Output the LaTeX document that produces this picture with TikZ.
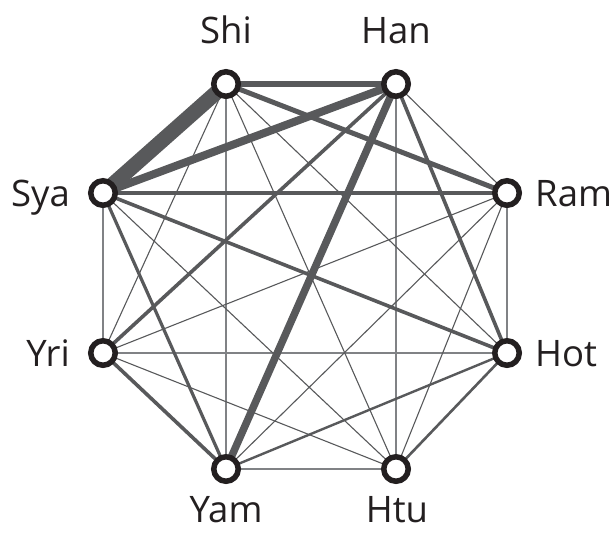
\documentclass[tikz,border=0pt]{standalone}
\usepackage{fontspec}
\setmainfont{Open Sans}
\usetikzlibrary{backgrounds}
\definecolor{ink}{HTML}{231F20}
\definecolor{edgegray}{HTML}{58595B}
\definecolor{lightedge}{HTML}{808285}
\tikzset{
  vert/.style={circle, draw=ink, fill=white, line width=5.5pt,
               minimum size=24.5pt, inner sep=0pt},
  lbl/.style={text=ink, font=\fontsize{36.5}{40}\selectfont, inner sep=0pt},
  w/.style={draw=edgegray, line width=#1pt},
  thin edge/.style={draw=edgegray, line width=1.1pt},
  grid edge/.style={draw=lightedge, line width=1.6pt},
}
\begin{document}
\begin{tikzpicture}[x=1pt, y=-1pt]
\useasboundingbox (0,0) rectangle (616,533);

% vertices of the octagon
\node[vert] (Shi) at (226,84)  {};
\node[vert] (Han) at (396,84)  {};
\node[vert] (Ram) at (507,193) {};
\node[vert] (Hot) at (507,353) {};
\node[vert] (Htu) at (396,469) {};
\node[vert] (Yam) at (226,469) {};
\node[vert] (Yri) at (103,353) {};
\node[vert] (Sya) at (103,193) {};

% labels
\node[lbl, anchor=base] (lShi) at (226,43) {Shi};
\node[lbl, anchor=base] (lHan) at (396,43) {Han};
\node[lbl, anchor=base west] (lRam) at (535,206) {Ram};
\node[lbl, anchor=base west] (lHot) at (535,366) {Hot};
\node[lbl, anchor=base east] (lSya) at (70,206) {Sya};
\node[lbl, anchor=base east] (lYri) at (70,366) {Yri};
\node[lbl, anchor=base] (lYam) at (226,522) {Yam};
\node[lbl, anchor=base] (lHtu) at (397,522) {Htu};

\begin{scope}[on background layer]
  % light axis-parallel edges
  \draw[grid edge] (Shi.center) -- (Yam.center);
  \draw[grid edge] (Han.center) -- (Htu.center);
  \draw[grid edge] (Ram.center) -- (Hot.center);
  \draw[grid edge] (Sya.center) -- (Yri.center);
  \draw[grid edge] (Yri.center) -- (Hot.center);
  \draw[grid edge] (Yam.center) -- (Htu.center);
  % thin edges
  \draw[thin edge] (Shi.center) -- (Hot.center);
  \draw[thin edge] (Shi.center) -- (Htu.center);
  \draw[thin edge] (Shi.center) -- (Yri.center);
  \draw[thin edge] (Han.center) -- (Ram.center);
  \draw[thin edge] (Ram.center) -- (Htu.center);
  \draw[thin edge] (Ram.center) -- (Yam.center);
  \draw[thin edge] (Ram.center) -- (Yri.center);
  \draw[thin edge] (Htu.center) -- (Yri.center);
  \draw[thin edge] (Htu.center) -- (Sya.center);
  % weighted edges
  \draw[w=2.6] (Hot.center) -- (Htu.center);
  \draw[w=2.4] (Hot.center) -- (Yam.center);
  \draw[w=3.2] (Sya.center) -- (Yam.center);
  \draw[w=3.6] (Yri.center) -- (Yam.center);
  \draw[w=3.6] (Sya.center) -- (Hot.center);
  \draw[w=3.6] (Han.center) -- (Yri.center);
  \draw[w=3.6] (Han.center) -- (Hot.center);
  \draw[w=4.2] (Sya.center) -- (Ram.center);
  \draw[w=5]   (Shi.center) -- (Ram.center);
  \draw[w=5.2] (Shi.center) -- (Han.center);
  \draw[w=7.5] (Han.center) -- (Yam.center);
  \draw[w=8]   (Han.center) -- (Sya.center);
  \draw[w=15]  (Shi.center) -- (Sya.center);
\end{scope}
\end{tikzpicture}
\end{document}
